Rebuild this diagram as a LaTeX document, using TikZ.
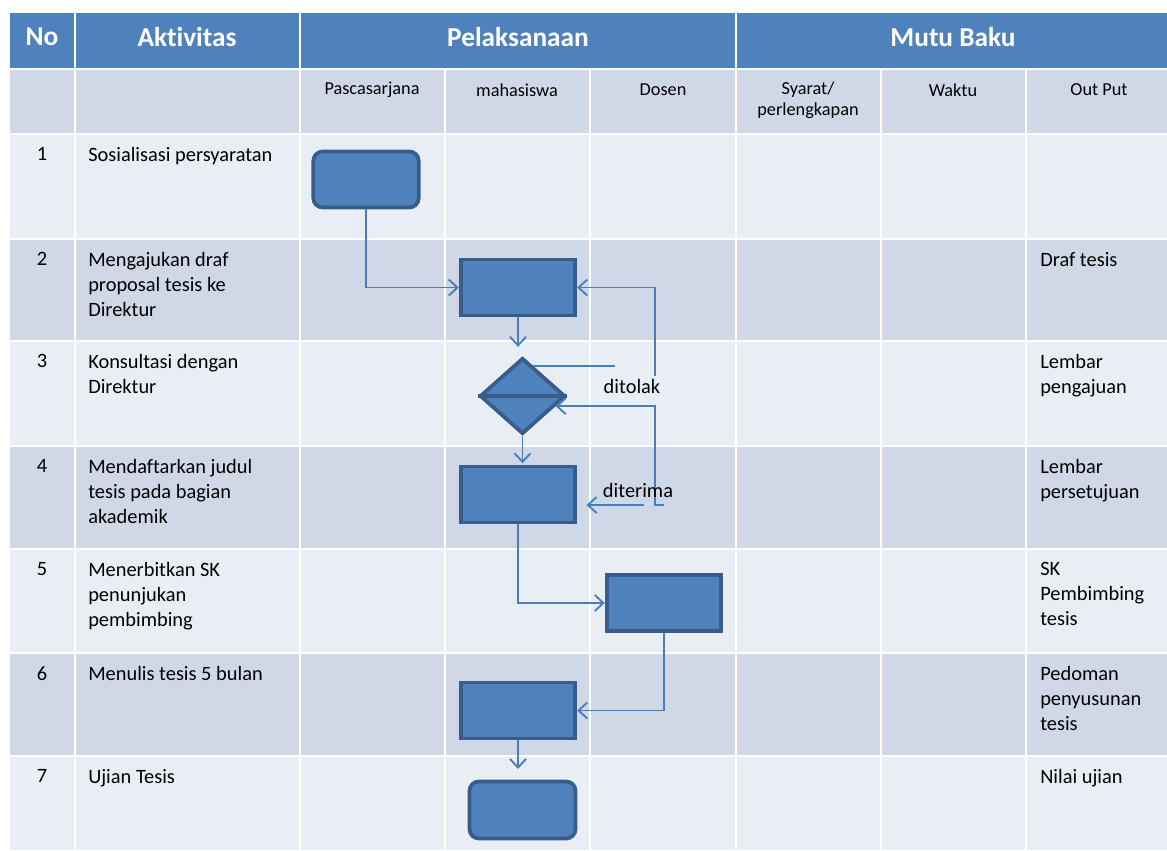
\documentclass[tikz,border=0pt]{standalone}
\usepackage{fontspec}
\setmainfont[Ligatures=NoCommon]{Carlito}
\usetikzlibrary{arrows.meta,shapes.geometric,positioning}
\definecolor{headblue}{HTML}{4F81BD}
\definecolor{banddark}{HTML}{D0D8E8}
\definecolor{bandlight}{HTML}{E9EDF4}
\definecolor{shapeedge}{HTML}{385D8A}
\definecolor{linkblue}{HTML}{4A7EBB}

\begin{document}
\begin{tikzpicture}[x=0.75pt,y=-0.75pt,
    headtext/.style={text=white,font=\fontsize{20.5}{24}\selectfont\bfseries},
    subtext/.style={font=\fontsize{13.7}{16}\selectfont,align=center,inner sep=0pt},
    celltext/.style={font=\fontsize{15.3}{18.75}\selectfont,anchor=north west,align=left,inner sep=0pt},
    stepbox/.style={draw=shapeedge,fill=headblue,line width=2.8pt,minimum width=86pt,minimum height=42pt,inner sep=0pt},
    startbox/.style={stepbox,rounded corners=7pt,minimum width=79pt},
    sortbox/.style={diamond,draw=shapeedge,fill=headblue,line width=2.8pt,minimum width=64pt,minimum height=57pt,inner sep=0pt},
    flow/.style={draw=linkblue,line width=1.4pt,-{Straight Barb[length=6.5pt,width=12pt]}},
    flowplain/.style={draw=linkblue,line width=1.4pt}]

    \useasboundingbox (0,0) rectangle (1167,850);

    % --------------------------------------------------------- %
    % ------------- table bands and grid
    % --------------------------------------------------------- %
    \fill[headblue] (10,13) rectangle (1167,69);
    \fill[banddark] (10,69) rectangle (1167,134);
    \foreach \ya/\yb/\band in {134/239/bandlight,239/341/banddark,341/446/bandlight,446/549/banddark,549/653/bandlight,653/756/banddark,756/850/bandlight}
      \fill[\band] (10,\ya) rectangle (1167,\yb);

    \foreach \yy in {69,134,239,341,446,549,653,756}
      \draw[white,line width=2pt] (10,\yy) -- (1167,\yy);
    \foreach \xx in {75,300,736}
      \draw[white,line width=2pt] (\xx,13) -- (\xx,850);
    \foreach \xx in {445,590,881,1026}
      \draw[white,line width=2pt] (\xx,69) -- (\xx,850);

    % --------------------------------------------------------- %
    % ------------- header texts
    % --------------------------------------------------------- %
    \node[headtext] (hno) at (42,37) {No};
    \node[headtext] (hakt) at (187,37) {Aktivitas};
    \node[headtext] (hpel) at (518,37) {Pelaksanaan};
    \node[headtext] (hmutu) at (953,37) {Mutu Baku};

    \node[subtext] (spasca) at (372,90) {Pascasarjana};
    \node[subtext] (smhs) at (517,90) {mahasiswa};
    \node[subtext] (sdosen) at (663,90) {Dosen};
    \node[subtext] (ssyarat) at (808,100) {Syarat/\\perlengkapan};
    \node[subtext] (swaktu) at (953,90) {Waktu};
    \node[subtext] (soutput) at (1099,90) {Out Put};

    % --------------------------------------------------------- %
    % ------------- rows: number, activity, output
    % --------------------------------------------------------- %
    \foreach \n/\yt/\aktiv/\hasil in {
        1/134/{Sosialisasi persyaratan}/{},
        2/239/{Mengajukan draf\\proposal tesis ke\\Direktur}/{Draf tesis},
        3/341/{Konsultasi dengan\\Direktur}/{Lembar\\pengajuan},
        4/446/{Mendaftarkan judul\\tesis pada bagian\\akademik}/{Lembar\\persetujuan},
        5/549/{Menerbitkan SK\\penunjukan\\pembimbing}/{SK\\Pembimbing\\tesis},
        6/653/{Menulis tesis 5 bulan}/{Pedoman\\penyusunan\\tesis},
        7/756/{Ujian Tesis}/{Nilai ujian}} {
      \node[celltext,anchor=north] (no\n) at (42,\yt+13) {\n};
      \node[celltext] (akt\n) at (88,\yt+13) {\aktiv};
      \node[celltext] (out\n) at (1040,\yt+13) {\hasil};
    }

    % --------------------------------------------------------- %
    % ------------- flow shapes
    % --------------------------------------------------------- %
    \node[startbox] (sosial) at (366,179.5) {};
    \node[stepbox] (draf) at (518,287.5) {};
    \node[sortbox] (konsul) at (522.5,396) {};
    \draw[shapeedge,line width=2.8pt] (konsul.west) -- (konsul.east);
    \node[stepbox] (daftar) at (518,494.5) {};
    \node[stepbox] (sk) at (664,603) {};
    \node[stepbox] (tulis) at (518,710.5) {};
    \node[startbox,minimum width=79.5pt,minimum height=42.75pt] (ujian) at (522.5,810) {};

    % --------------------------------------------------------- %
    % ------------- connectors
    % --------------------------------------------------------- %
    \coordinate (tolakA) at (615,366);
    \coordinate (tolakB) at (655,376);
    \coordinate (terimaA) at (664,505);
    \coordinate (terimaC) at (644,505);

    \draw[flow] (sosial.south) |- (draf.west);
    \draw[flow,shorten >=7pt] (draf.south) -- (draf.south |- konsul.north);
    \draw[flowplain] (konsul.70) -- (konsul.70 -| tolakA);
    \draw[flow] (tolakB) |- (draf.east);
    \node[celltext,anchor=center] (ditolak) at (632,386) {ditolak};
    \draw[flow] (terimaA) -- (terimaA -| tolakB) |- (konsul.-17);
    \draw[flow,shorten >=7pt] (terimaC) -- (terimaC -| daftar.east);
    \node[celltext,anchor=center] (diterima) at (638,490) {diterima};
    \draw[flow,shorten >=1pt] (konsul.south) -- (konsul.south |- daftar.north);
    \draw[flow] (daftar.south) |- (sk.west);
    \draw[flow] (sk.south) |- (tulis.east);
    \draw[flow,shorten >=8pt] (tulis.south) -- (tulis.south |- ujian.north);

  \end{tikzpicture}
\end{document}
